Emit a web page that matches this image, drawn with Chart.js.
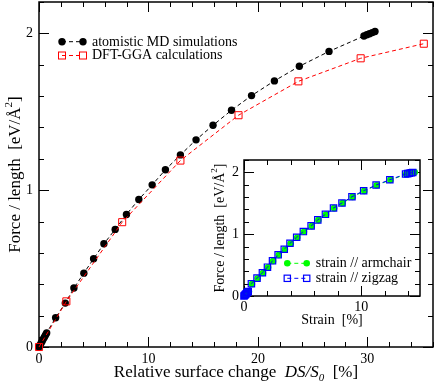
<!DOCTYPE html>
<html><head><meta charset="utf-8">
<script src="https://cdn.jsdelivr.net/npm/chart.js@4/dist/chart.umd.min.js"></script>
<style>
html,body{margin:0;padding:0;background:#fff;}
#wrap{position:relative;width:436px;height:386px;overflow:hidden;}
#main{position:absolute;left:0;top:0;}
#inset{position:absolute;left:200px;top:150px;}
</style></head><body>
<div id="wrap"><canvas id="main" width="436" height="386"></canvas><canvas id="inset" width="230" height="182"></canvas></div>
<script>
// ---------- data ----------
const mdSurface = [0,0.1,0.2,0.3,0.4,0.5,0.6,0.7,1.52,2.40,3.19,4.10,4.99,5.93,6.96,7.99,9.12,10.34,11.55,12.92,14.35,15.9,17.59,19.42,21.51,23.79,26.5,29.69,29.95,30.2,30.45,30.7];
const mdForce   = [0,0.013,0.026,0.039,0.052,0.064,0.077,0.09,0.187,0.280,0.376,0.471,0.563,0.658,0.750,0.845,0.941,1.034,1.130,1.225,1.321,1.414,1.510,1.603,1.697,1.790,1.885,1.983,1.991,1.998,2.005,2.012];
const dftSurface = [0,2.5,7.6,12.92,18.23,23.7,29.39,35.16];
const dftForce   = [0,0.291,0.796,1.189,1.478,1.694,1.841,1.934];

const armStrain = [0,0.07,0.14,0.21,0.28,0.35,0.42,0.68,1.16,1.62,2.05,2.48,2.96,3.48,3.97,4.54,5.11,5.77,6.34,6.99,7.68,8.40,9.25,10.25,11.31,12.48,13.82,14.0,14.15,14.3,14.42,14.55];
const armForce  = [0,0.012,0.024,0.036,0.048,0.06,0.072,0.195,0.286,0.373,0.463,0.566,0.663,0.753,0.850,0.947,1.039,1.131,1.228,1.318,1.421,1.502,1.603,1.700,1.792,1.878,1.970,1.978,1.985,1.991,1.996,2.0];
const zigStrain = [0,0.06,0.12,0.18,0.24,0.30,0.36,0.63,1.11,1.57,2.0,2.43,2.91,3.43,3.92,4.49,5.06,5.72,6.29,6.94,7.63,8.35,9.2,10.2,11.26,12.43,13.77,13.95,14.1,14.25,14.38];
const zigForce  = [0,0.012,0.024,0.036,0.048,0.06,0.072,0.198,0.289,0.376,0.466,0.569,0.666,0.756,0.853,0.95,1.042,1.134,1.231,1.321,1.424,1.505,1.606,1.703,1.795,1.881,1.973,1.98,1.987,1.993,1.998];

const mainXLabels = [0,10,20,30];
const mainYLabels = [0,1,2];
const insetXLabels = [0,10];
const insetYLabels = [0,1,2];
const mainLegend = ['atomistic MD simulations','DFT-GGA calculations'];
const insetLegend = ['strain // armchair','strain // zigzag'];

// ---------- helpers ----------
const SERIF = "'Liberation Serif','Times New Roman',serif";
const pts = (xs, ys) => xs.map((x, i) => ({x: x, y: ys[i]}));
const isIn = (v, list) => list.some(l => Math.abs(l - v) < 1e-6);

function drawRich(ctx, segs, cx, baseY) {
  let total = 0;
  segs.forEach(s => { ctx.font = s.f; s.w = ctx.measureText(s.t).width; total += s.w; });
  let x = cx - total / 2;
  ctx.textAlign = 'left'; ctx.textBaseline = 'alphabetic';
  segs.forEach(s => { ctx.font = s.f; ctx.fillText(s.t, x, baseY + (s.dy || 0)); x += s.w; });
}

function framePlugin(majorX, majorY, lenMaj, lenMin) {
  return {
    id: 'frameTicks',
    beforeDraw(chart) {
      const a = chart.chartArea, ctx = chart.ctx;
      ctx.save(); ctx.fillStyle = '#fff';
      ctx.fillRect(a.left, a.top, a.right - a.left, a.bottom - a.top);
      ctx.restore();
    },
    beforeDatasetsDraw(chart) {
      const a = chart.chartArea, ctx = chart.ctx;
      const xs = chart.scales.x, ys = chart.scales.y;
      ctx.save(); ctx.strokeStyle = '#000'; ctx.lineWidth = 1;
      ctx.beginPath();
      xs.ticks.forEach(t => {
        const p = Math.round(xs.getPixelForValue(t.value)) + 0.5;
        const L = isIn(t.value, majorX) ? lenMaj : lenMin;
        ctx.moveTo(p, a.bottom); ctx.lineTo(p, a.bottom - L);
        ctx.moveTo(p, a.top); ctx.lineTo(p, a.top + L);
      });
      ys.ticks.forEach(t => {
        const p = Math.round(ys.getPixelForValue(t.value)) + 0.5;
        const L = isIn(t.value, majorY) ? lenMaj : lenMin;
        ctx.moveTo(a.left, p); ctx.lineTo(a.left + L, p);
        ctx.moveTo(a.right, p); ctx.lineTo(a.right - L, p);
      });
      ctx.stroke();
      ctx.lineWidth = 1.5;
      ctx.strokeRect(a.left, a.top, a.right - a.left, a.bottom - a.top);
      ctx.restore();
    }
  };
}

function circle(ctx, x, y, r, color) {
  ctx.beginPath(); ctx.arc(x, y, r, 0, Math.PI * 2); ctx.fillStyle = color; ctx.fill();
}
function square(ctx, x, y, s, color, lw) {
  ctx.lineWidth = lw; ctx.strokeStyle = color; ctx.strokeRect(x - s / 2, y - s / 2, s, s);
}
function dashLine(ctx, x1, x2, y, color) {
  ctx.save(); ctx.setLineDash([4, 3]); ctx.strokeStyle = color; ctx.lineWidth = 1;
  ctx.beginPath(); ctx.moveTo(x1, y); ctx.lineTo(x2, y); ctx.stroke(); ctx.restore();
}

function scaleOpts(min, max, step, labels, size, pad, fitKey, fitVal) {
  return {
    type: 'linear', min: min, max: max,
    grid: {display: false, drawTicks: false},
    border: {display: false},
    ticks: {
      stepSize: step, autoSkip: false, includeBounds: false, maxTicksLimit: 100,
      padding: pad, color: '#000',
      font: {family: SERIF, size: size},
      callback: v => isIn(v, labels) ? String(Math.round(v)) : ''
    },
    afterFit: s => {
      s[fitKey] = fitVal;
      s.paddingTop = 0; s.paddingBottom = 0; s.paddingLeft = 0; s.paddingRight = 0;
    }
  };
}

// ---------- main chart ----------
const mainPlugin = {
  id: 'mainText',
  afterDraw(chart) {
    const ctx = chart.ctx;
    ctx.save(); ctx.fillStyle = '#000';
    drawRich(ctx, [
      {t: 'Relative surface change  ', f: '17px ' + SERIF},
      {t: 'DS/S', f: 'italic 17px ' + SERIF},
      {t: '0', f: 'italic 11px ' + SERIF, dy: 4},
      {t: '  [%]', f: '17px ' + SERIF}
    ], 236, 377);
    ctx.save(); ctx.translate(20, 174.5); ctx.rotate(-Math.PI / 2);
    drawRich(ctx, [
      {t: 'Force / length  [eV/Å', f: '17px ' + SERIF},
      {t: '2', f: '11px ' + SERIF, dy: -8},
      {t: ']', f: '17px ' + SERIF}
    ], 0, 0);
    ctx.restore();
    dashLine(ctx, 62, 83, 41.7, '#000');
    circle(ctx, 62, 41.7, 3.7, '#000'); circle(ctx, 83, 41.7, 3.7, '#000');
    dashLine(ctx, 62, 83, 55.5, '#ff0000');
    square(ctx, 62, 55.5, 7, '#ff0000', 1); square(ctx, 83, 55.5, 7, '#ff0000', 1);
    ctx.fillStyle = '#000'; ctx.font = '14px ' + SERIF; ctx.textAlign = 'left'; ctx.textBaseline = 'middle';
    ctx.fillText(mainLegend[0], 92, 42);
    ctx.fillText(mainLegend[1], 92, 55.5);
    ctx.restore();
  }
};

new Chart(document.getElementById('main'), {
  type: 'scatter',
  data: {
    datasets: [
      {data: pts(dftSurface, dftForce), showLine: true, borderColor: '#ff0000', borderWidth: 1, borderDash: [4, 3],
       pointStyle: 'rect', pointRadius: 5, pointBorderColor: '#ff0000', pointBackgroundColor: 'rgba(0,0,0,0)', pointBorderWidth: 1, clip: false},
      {data: pts(mdSurface, mdForce), showLine: true, borderColor: '#000', borderWidth: 1, borderDash: [4, 3],
       pointStyle: 'circle', pointRadius: 3.7, pointBorderWidth: 0, pointBackgroundColor: '#000', pointBorderColor: '#000', clip: false}
    ]
  },
  options: {
    responsive: false, animation: false, events: [],
    layout: {autoPadding: false, padding: {top: 2, right: 3, left: 0, bottom: 0}},
    plugins: {legend: {display: false}, tooltip: {enabled: false}},
    scales: {
      x: scaleOpts(0, 36, 2, mainXLabels, 14, 4, 'height', 39),
      y: scaleOpts(0, 2.2, 0.2, mainYLabels, 14, 6, 'width', 39)
    }
  },
  plugins: [framePlugin(mainXLabels, mainYLabels, 10, 5), mainPlugin]
});

// ---------- inset chart ----------
const insetPlugin = {
  id: 'insetText',
  afterDraw(chart) {
    const ctx = chart.ctx;
    ctx.save(); ctx.fillStyle = '#000';
    drawRich(ctx, [{t: 'Strain  [%]', f: '14px ' + SERIF}], 132, 174);
    ctx.save(); ctx.translate(24, 78); ctx.rotate(-Math.PI / 2);
    drawRich(ctx, [
      {t: 'Force / length  [eV/Å', f: '14px ' + SERIF},
      {t: '2', f: '9px ' + SERIF, dy: -7},
      {t: ']', f: '14px ' + SERIF}
    ], 0, 0);
    ctx.restore();
    dashLine(ctx, 87.3, 106.7, 113.3, '#00ff00');
    circle(ctx, 87.3, 113.3, 3.3, '#00ff00'); circle(ctx, 106.7, 113.3, 3.3, '#00ff00');
    dashLine(ctx, 87.3, 106.7, 128.3, '#0000ff');
    square(ctx, 87.3, 128.3, 6.3, '#0000ff', 1.2); square(ctx, 106.7, 128.3, 6.3, '#0000ff', 1.2);
    ctx.fillStyle = '#000'; ctx.font = '14px ' + SERIF; ctx.textAlign = 'left'; ctx.textBaseline = 'middle';
    ctx.fillText(insetLegend[0], 115.7, 113.8);
    ctx.fillText(insetLegend[1], 115.7, 128.8);
    ctx.restore();
  }
};

new Chart(document.getElementById('inset'), {
  type: 'scatter',
  data: {
    datasets: [
      {data: pts(zigStrain, zigForce), showLine: true, borderColor: '#0000ff', borderWidth: 1, borderDash: [4, 3],
       pointStyle: 'rect', pointRadius: 4.5, pointBorderColor: '#0000ff', pointBackgroundColor: 'rgba(0,0,0,0)', pointBorderWidth: 1.2, clip: false},
      {data: pts(armStrain, armForce), showLine: true, borderColor: '#00ff00', borderWidth: 1, borderDash: [4, 3],
       pointStyle: 'circle', pointRadius: 3.3, pointBorderWidth: 0, pointBackgroundColor: '#00ff00', pointBorderColor: '#00ff00', clip: false}
    ]
  },
  options: {
    responsive: false, animation: false, events: [],
    layout: {autoPadding: false, padding: {top: 10, right: 10, left: 0, bottom: 0}},
    plugins: {legend: {display: false}, tooltip: {enabled: false}},
    scales: {
      x: scaleOpts(0, 15, 2, insetXLabels, 14, 3, 'height', 36),
      y: scaleOpts(0, 2.2, 0.2, insetYLabels, 14, 5, 'width', 44)
    }
  },
  plugins: [framePlugin(insetXLabels, insetYLabels, 10, 5), insetPlugin]
});
</script>
</body></html>
